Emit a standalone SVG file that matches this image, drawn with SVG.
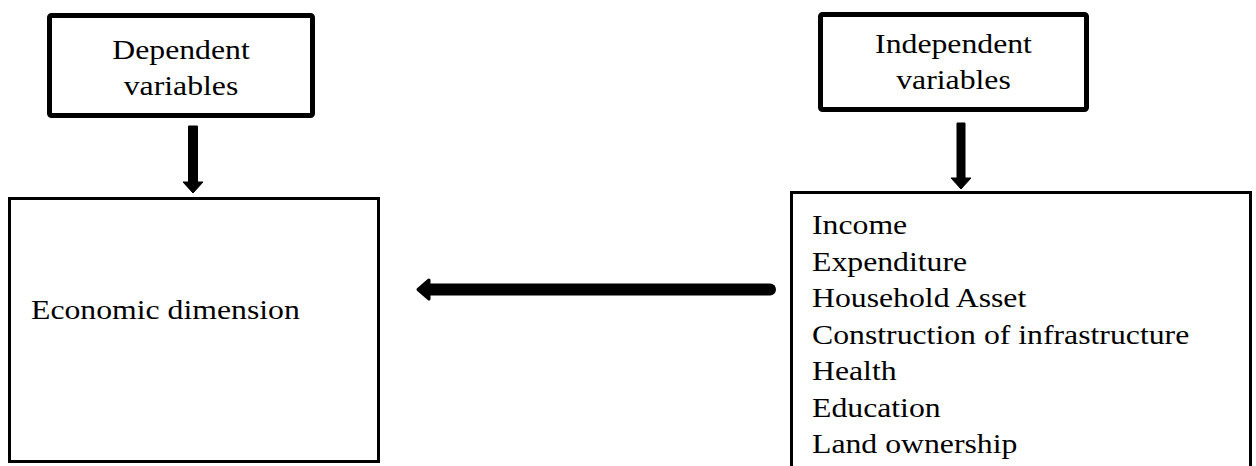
<svg xmlns="http://www.w3.org/2000/svg" width="1256" height="466" viewBox="0 0 1256 466">
  <style>
    .t { font-family: "Liberation Serif", "Times New Roman", serif; font-size: 28px; fill: #000; }
    .thick { fill: #fff; stroke: #000; stroke-width: 5; }
    .thin { fill: #fff; stroke: #000; stroke-width: 3; }
    .arr { fill: #000; stroke: #000; stroke-linejoin: round; }
  </style>
  <rect width="1256" height="466" fill="#fff"/>
  <g id="dependent">
    <rect class="thick" x="49.5" y="15.5" width="263" height="100" rx="2"/>
    <text class="t" text-anchor="middle" transform="translate(181,59) scale(1.134,1)">Dependent</text>
    <text class="t" text-anchor="middle" transform="translate(181,95) scale(1.134,1)">variables</text>
  </g>
  <g id="independent">
    <rect class="thick" x="820.5" y="14.5" width="266" height="95" rx="2"/>
    <text class="t" text-anchor="middle" transform="translate(953.5,53) scale(1.134,1)">Independent</text>
    <text class="t" text-anchor="middle" transform="translate(953.5,89) scale(1.134,1)">variables</text>
  </g>
  <g id="economic">
    <rect class="thin" x="9.5" y="198.5" width="369" height="263"/>
    <text class="t" transform="translate(31,319) scale(1.134,1)">Economic dimension</text>
  </g>
  <g id="factors">
    <rect class="thin" x="791.5" y="192.5" width="459" height="290"/>
    <text class="t" transform="translate(812,234) scale(1.134,1)">Income</text>
    <text class="t" transform="translate(812,270.5) scale(1.134,1)">Expenditure</text>
    <text class="t" transform="translate(812,307) scale(1.134,1)">Household Asset</text>
    <text class="t" transform="translate(812,343.5) scale(1.134,1)">Construction of infrastructure</text>
    <text class="t" transform="translate(812,380) scale(1.134,1)">Health</text>
    <text class="t" transform="translate(812,416.5) scale(1.134,1)">Education</text>
    <text class="t" transform="translate(812,453) scale(1.134,1)">Land ownership</text>
  </g>
  <g id="connectors">
    <path class="arr" stroke-width="1" d="M188.5,126 H197.5 V182 H203 L193,193 L183,182 H188.5 Z"/>
    <path class="arr" stroke-width="1" d="M957,123 H965 V178 H971 L961,189 L951,178 H957 Z"/>
    <line x1="430" y1="289.5" x2="770" y2="289.5" stroke="#000" stroke-width="12" stroke-linecap="round"/>
    <path class="arr" stroke-width="3" d="M418,289.5 L429,280 L429,299 Z"/>
  </g>
</svg>
